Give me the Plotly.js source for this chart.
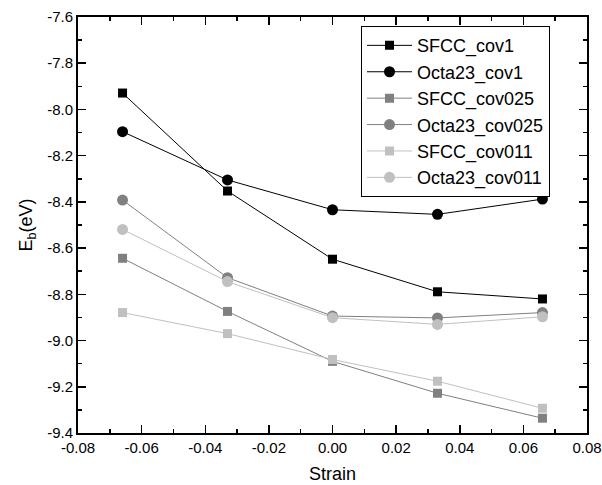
<!DOCTYPE html>
<html>
<head>
<meta charset="utf-8">
<script src="https://cdn.plot.ly/plotly-3.0.1.min.js"></script>
<style>html,body{margin:0;padding:0;background:#fff;}#chart{width:602px;height:485px;}</style>
</head>
<body>
<div id="chart"></div>
<script>
const strain = [-0.066, -0.033, 0.0, 0.033, 0.066];
const seriesNames = ["SFCC_cov1", "Octa23_cov1", "SFCC_cov025", "Octa23_cov025", "SFCC_cov011", "Octa23_cov011"];
const sfccCov1 = [-7.929, -8.353, -8.648, -8.789, -8.820];
const octaCov1 = [-8.096, -8.305, -8.434, -8.454, -8.388];
const sfccCov025 = [-8.644, -8.874, -9.090, -9.228, -9.336];
const octaCov025 = [-8.392, -8.728, -8.894, -8.902, -8.879];
const sfccCov011 = [-8.879, -8.970, -9.082, -9.176, -9.293];
const octaCov011 = [-8.519, -8.745, -8.901, -8.930, -8.897];

const xTickVals = [-0.08, -0.06, -0.04, -0.02, 0.0, 0.02, 0.04, 0.06, 0.08];
const xTickText = ["-0.08", "-0.06", "-0.04", "-0.02", "0.00", "0.02", "0.04", "0.06", "0.08"];
const yTickVals = [-9.4, -9.2, -9.0, -8.8, -8.6, -8.4, -8.2, -8.0, -7.8, -7.6];
const yTickText = ["-9.4", "-9.2", "-9.0", "-8.8", "-8.6", "-8.4", "-8.2", "-8.0", "-7.8", "-7.6"];

const values = [sfccCov1, octaCov1, sfccCov025, octaCov025, sfccCov011, octaCov011];
const colors = ["#000000", "#000000", "#808080", "#808080", "#c0c0c0", "#c0c0c0"];
const symbols = ["square", "circle", "square", "circle", "square", "circle"];

const traces = values.map((v, i) => ({
  x: strain, y: v, name: seriesNames[i], type: "scatter", mode: "lines+markers",
  line: {color: colors[i], width: 1},
  marker: {color: colors[i], symbol: symbols[i], size: symbols[i] === "square" ? 9 : 11}
}));

const FONT = "Liberation Sans, Arial, sans-serif";
const axisCommon = {
  showgrid: false, zeroline: false, showline: true, linecolor: "#000", linewidth: 2,
  mirror: "allticks", ticks: "inside", ticklen: 8, tickwidth: 1.5, tickcolor: "#000",
  tickmode: "array",
  tickfont: {family: FONT, size: 15, color: "#000"}
};

const layout = {
  width: 602, height: 485,
  margin: {l: 78, r: 15, t: 17, b: 52},
  paper_bgcolor: "#fff", plot_bgcolor: "#fff",
  font: {family: FONT, color: "#000"},
  showlegend: true,
  legend: {
    x: 0.556, y: 0.978, xanchor: "left", yanchor: "top",
    bgcolor: "#fff", bordercolor: "#000", borderwidth: 1,
    font: {family: FONT, size: 18, color: "#000"},
    itemwidth: 45, tracegroupgap: 0
  },
  xaxis: Object.assign({}, axisCommon, {
    range: [-0.08, 0.08], tickvals: xTickVals, ticktext: xTickText,
    minor: {ticks: "inside", ticklen: 4, tickwidth: 1.5, tickcolor: "#000", dtick: 0.01, tick0: -0.08},
    title: {text: "Strain", font: {family: FONT, size: 18, color: "#000"}, standoff: 12}
  }),
  yaxis: Object.assign({}, axisCommon, {
    range: [-9.4, -7.6], tickvals: yTickVals, ticktext: yTickText,
    minor: {ticks: "inside", ticklen: 4, tickwidth: 1.5, tickcolor: "#000", dtick: 0.1, tick0: -9.4},
    title: {text: "E<sub>b</sub>(eV)", font: {family: FONT, size: 18, color: "#000"}, standoff: 10}
  })
};

Plotly.newPlot("chart", traces, layout, {displayModeBar: false, staticPlot: true});
</script>
</body>
</html>
